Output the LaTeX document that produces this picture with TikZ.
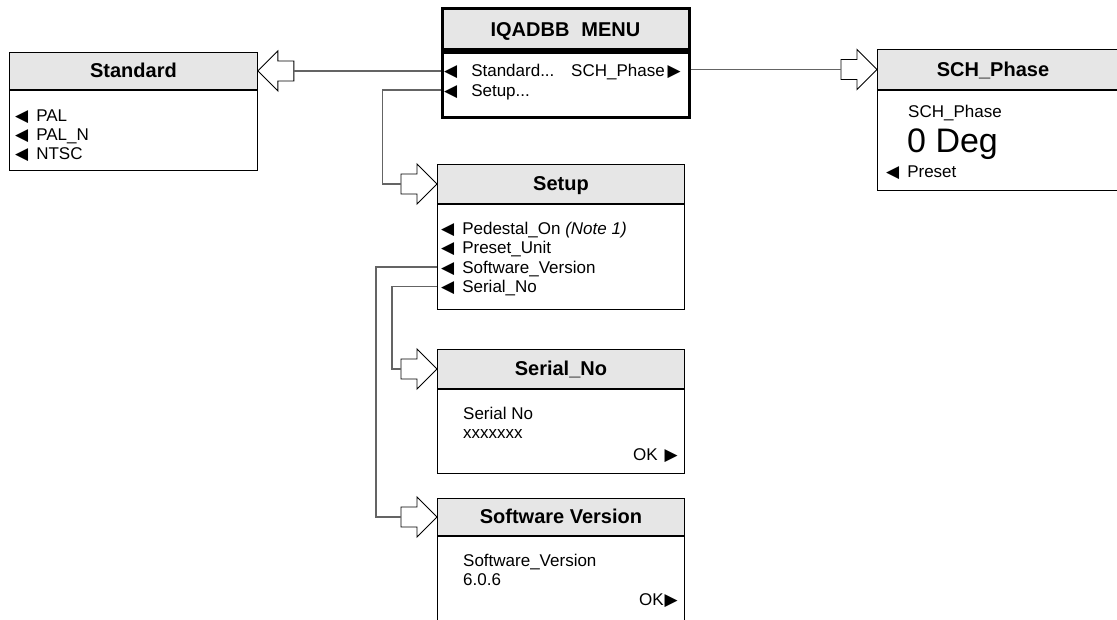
\documentclass[tikz,border=0pt]{standalone}
\usepackage{fontspec}
\setmainfont{Liberation Sans}
\newfontfamily\symfont{DejaVu Sans}
\newcommand\tril{{\symfont\fontsize{17}{17}\selectfont ◀}}
\newcommand\trir{{\symfont\fontsize{17}{17}\selectfont ▶}}
\newcommand\itm{\tril\hspace{8pt}}
\definecolor{hdrgray}{RGB}{230,230,230}
\definecolor{conngray}{RGB}{100,100,100}
\tikzset{
  hdr/.style={draw, fill=hdrgray, line width=0.9pt, inner sep=0pt,
    font=\bfseries\fontsize{20}{24}\selectfont, text height=14pt, text depth=0pt},
  bodybox/.style={draw, fill=white, line width=0.9pt, inner sep=0pt},
  item/.style={inner sep=0pt, anchor=west, font=\fontsize{17}{19}\selectfont,
    text height=12pt, text depth=0pt},
  big/.style={font=\fontsize{34}{40}\selectfont, text height=24pt, text depth=0pt},
  conn/.style={draw=conngray, line width=1.2pt},
  blockarrow/.pic={
    \draw[line width=0.9pt, fill=white, line join=miter]
      (0,0) -- (-20,-20) -- (-20,-10) -- (-36,-10) -- (-36,10) -- (-20,10) -- (-20,20) -- cycle;
  }
}
\begin{document}
\begin{tikzpicture}[x=1pt, y=-1pt]
\clip (0,0) rectangle (1117,619);
\fill[white] (0,0) rectangle (1117,619);

% main menu
\node[hdr, line width=3pt, minimum width=247, minimum height=41, anchor=north west]
  (menuh) at (440.5,7) {IQADBB\hspace{12pt}MENU};
\node[bodybox, line width=3pt, minimum width=247, minimum height=65, anchor=north west]
  (menu) at (menuh.south west) {};
\node[item] (mstd) at (444,70) {\tril\hspace{14pt}Standard...};
\node[item, anchor=east] (msch) at (681,70) {SCH\_Phase\hspace{3pt}\trir};
\node[item] (mset) at (444,90) {\tril\hspace{14pt}Setup...};

% Standard
\node[hdr, minimum width=248, minimum height=37, anchor=north west] (stdh) at (9,52) {Standard};
\node[bodybox, minimum width=248, minimum height=80, anchor=north west] (stdb) at (stdh.south west) {};
\node[item] (pal) at (15,115) {\itm PAL};
\node[item] (paln) at (15,134) {\itm PAL\_N};
\node[item] (ntsc) at (15,153) {\itm NTSC};

% SCH_Phase
\node[hdr, minimum width=250, minimum height=40, anchor=north west] (schh) at (877,49) {};
\node[hdr, draw=none, fill=none] (schtitle) at (993,69) {SCH\_Phase};
\node[bodybox, minimum width=250, minimum height=100, anchor=north west] (schb) at (schh.south west) {};
\node[item] (schlbl) at (908,111) {SCH\_Phase};
\node[item, big] (deg) at (907,140.5) {0 Deg};
\node[item] (preset) at (886,171) {\itm Preset};

% Setup
\node[hdr, minimum width=247, minimum height=39, anchor=north west] (setuph) at (437,164) {Setup};
\node[bodybox, minimum width=247, minimum height=105, anchor=north west] (setupb) at (setuph.south west) {};
\node[item] (ped) at (441,228) {\itm Pedestal\_On \textit{(Note 1)}};
\node[item] (pru) at (441,247.5) {\itm Preset\_Unit};
\node[item] (swv) at (441,267) {\itm Software\_Version};
\node[item] (srn) at (441,286.5) {\itm Serial\_No};

% Serial_No
\node[hdr, minimum width=247, minimum height=39, anchor=north west] (serh) at (437,349) {Serial\_No};
\node[bodybox, minimum width=247, minimum height=84, anchor=north west] (serb) at (serh.south west) {};
\node[item] (serlbl) at (463,413) {Serial No};
\node[item] (serval) at (463,432) {xxxxxxx};
\node[item, anchor=east] (serok) at (678,454) {OK\hspace{7pt}\trir};

% Software Version
\node[hdr, minimum width=247, minimum height=37, anchor=north west] (swh) at (437,498) {Software Version};
\node[bodybox, minimum width=247, minimum height=110, anchor=north west] (swb) at (swh.south west) {};
\node[item] (swlbl) at (463,560) {Software\_Version};
\node[item] (swval) at (463,579) {6.0.6};
\node[item, anchor=east] (swok) at (678,599) {OK\hspace{1pt}\trir};

% block arrows into each menu
\pic[xscale=-1] at (stdh.east) {blockarrow};
\pic at (schh.west) {blockarrow};
\pic at (setuph.west) {blockarrow};
\pic at (serh.west) {blockarrow};
\pic at (swh.west) {blockarrow};
\coordinate (stdtail) at ([xshift=36pt]stdh.east);
\coordinate (schtail) at ([xshift=-36pt]schh.west);
\coordinate (setuptail) at ([xshift=-36pt]setuph.west);
\coordinate (sertail) at ([xshift=-36pt]serh.west);
\coordinate (swtail) at ([xshift=-36pt]swh.west);

% connectors
\draw[conn] (menu.west |- stdtail) -- (stdtail);
\draw[conn] (menu.east |- schtail) -- (schtail);
\draw[conn] (menu.west |- mset.west) -- ++(-58,0) |- (setuptail);
\draw[conn] (setupb.west |- swv.west) -- ++(-61,0) |- (swtail);
\draw[conn] (setupb.west |- srn.west) -- ++(-45,0) |- (sertail);
\end{tikzpicture}
\end{document}
